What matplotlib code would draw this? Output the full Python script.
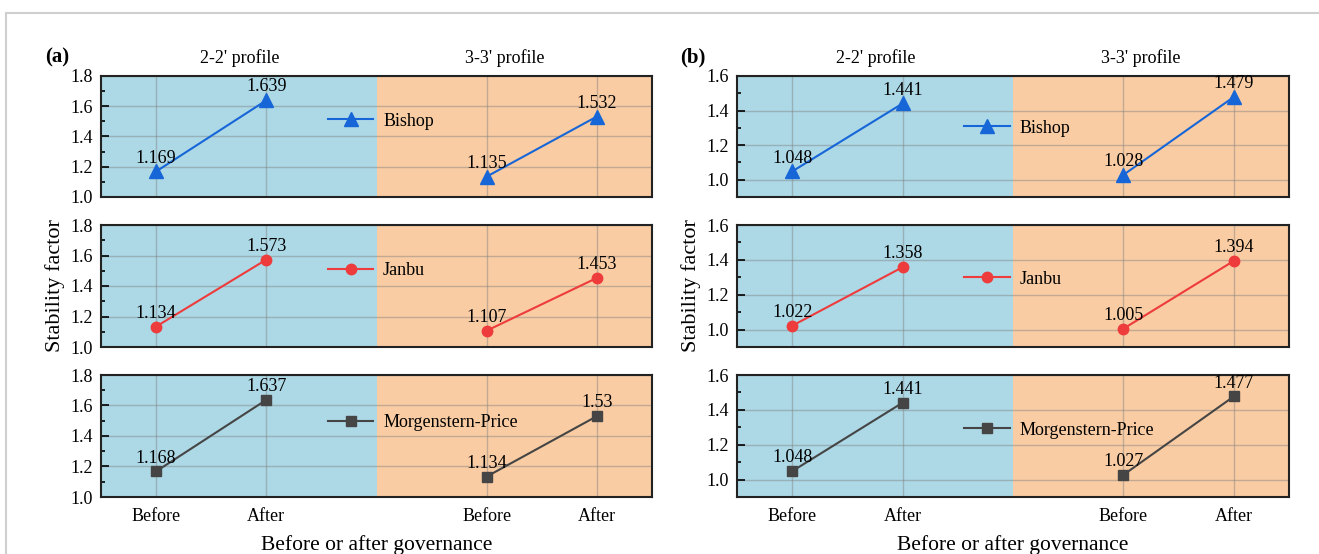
import matplotlib
matplotlib.use("Agg")
import matplotlib.pyplot as plt
from matplotlib.lines import Line2D
from matplotlib.ticker import MultipleLocator

plt.rcParams['font.family'] = ['Liberation Serif', 'DejaVu Serif']

# x categories: before / after for the 2-2' and 3-3' profiles
x_pos = [1, 2, 4, 5]
x_labels = ["Before", "After", "Before", "After"]
profiles = ["2-2' profile", "3-3' profile"]
methods = ["Bishop", "Janbu", "Morgenstern-Price"]

# panel (a)
a_bishop = [1.169, 1.639, 1.135, 1.532]
a_janbu = [1.134, 1.573, 1.107, 1.453]
a_mp = [1.168, 1.637, 1.134, 1.53]

# panel (b)
b_bishop = [1.048, 1.441, 1.028, 1.479]
b_janbu = [1.022, 1.358, 1.005, 1.394]
b_mp = [1.048, 1.441, 1.027, 1.477]

colors = ["#1766D8", "#EE3B3B", "#454545"]
markers = ["^", "o", "s"]
msizes = [9.5, 7.5, 7]

W, H = 1319, 554
fig = plt.figure(figsize=(W / 100, H / 100), dpi=100)

# light frame round the figure
fig.add_artist(Line2D([6 / W, 1], [1 - 13 / H, 1 - 13 / H], color="#cfcfcf", lw=1.5))
fig.add_artist(Line2D([6 / W, 6 / W], [0, 1 - 13 / H], color="#cfcfcf", lw=1.5))

rows_px = [(76, 197), (225, 347), (375, 497)]
panels = [
    dict(tag="(a)", left=101, right=652, data=[a_bishop, a_janbu, a_mp],
         ylim=(1.0, 1.8), leg_y=[0.628, 0.623, 0.607]),
    dict(tag="(b)", left=737, right=1289, data=[b_bishop, b_janbu, b_mp],
         ylim=(0.9, 1.6), leg_y=[0.57, 0.557, 0.549]),
]

for p in panels:
    for i, (top, bot) in enumerate(rows_px):
        ax = fig.add_axes([p["left"] / W, 1 - bot / H,
                           (p["right"] - p["left"]) / W, (bot - top) / H])
        ax.axvspan(0.5, 3, color="#ADD8E6", lw=0, zorder=0)
        ax.axvspan(3, 5.5, color="#F9CCA3", lw=0, zorder=0)
        ax.set_xlim(0.5, 5.5)
        ax.set_ylim(*p["ylim"])
        ax.yaxis.set_major_locator(MultipleLocator(0.2))
        ax.yaxis.set_minor_locator(MultipleLocator(0.1))
        ax.set_xticks(x_pos)
        ax.grid(True, which="major", color="#808080", alpha=0.45, lw=1.0, zorder=1)
        ax.set_axisbelow(True)
        ax.tick_params(axis="y", which="major", direction="in", length=5.5, width=1.2,
                       labelsize=13, pad=6)
        ax.tick_params(axis="y", which="minor", direction="in", length=3, width=1.2)
        ax.tick_params(axis="x", length=0, labelsize=13, pad=8)
        for s in ax.spines.values():
            s.set_linewidth(1.5)
            s.set_color("#222222")

        vals = p["data"][i]
        for seg in (slice(0, 2), slice(2, 4)):
            ax.plot(x_pos[seg], vals[seg], color=colors[i], marker=markers[i],
                    ms=msizes[i], lw=1.5, zorder=3)
        for x, v in zip(x_pos, vals):
            ax.annotate(f"{v:g}", (x, v), xytext=(0, 3.5), textcoords="offset points",
                        ha="center", va="bottom", fontsize=13, zorder=4)

        handle = Line2D([], [], color=colors[i], marker=markers[i], ms=msizes[i], lw=1.5)
        ax.legend([handle], [methods[i]], loc="center left",
                  bbox_to_anchor=(0.412, p["leg_y"][i]), frameon=False,
                  borderpad=0, borderaxespad=0, handlelength=2.5,
                  handletextpad=0.55, fontsize=13)

        if i == 0:
            for k, name in enumerate(profiles):
                ax.text(0.252 + 0.48 * k, 1.15, name, transform=ax.transAxes,
                        ha="center", va="center", fontsize=13)
        if i == 2:
            ax.set_xticklabels(x_labels)
        else:
            ax.set_xticklabels([])

    mid = (p["left"] + p["right"]) / 2
    fig.text((p["left"] - 44) / W, 1 - 57 / H, p["tag"], fontsize=15,
             fontweight="bold", ha="center", va="center")
    fig.text((p["left"] - 46) / W, 1 - 286 / H, "Stability factor", rotation=90,
             fontsize=16, ha="center", va="center")
    fig.text(mid / W, 1 - 545 / H, "Before or after governance", fontsize=15.5,
             ha="center", va="center")

fig.savefig("out.png", dpi=100)
